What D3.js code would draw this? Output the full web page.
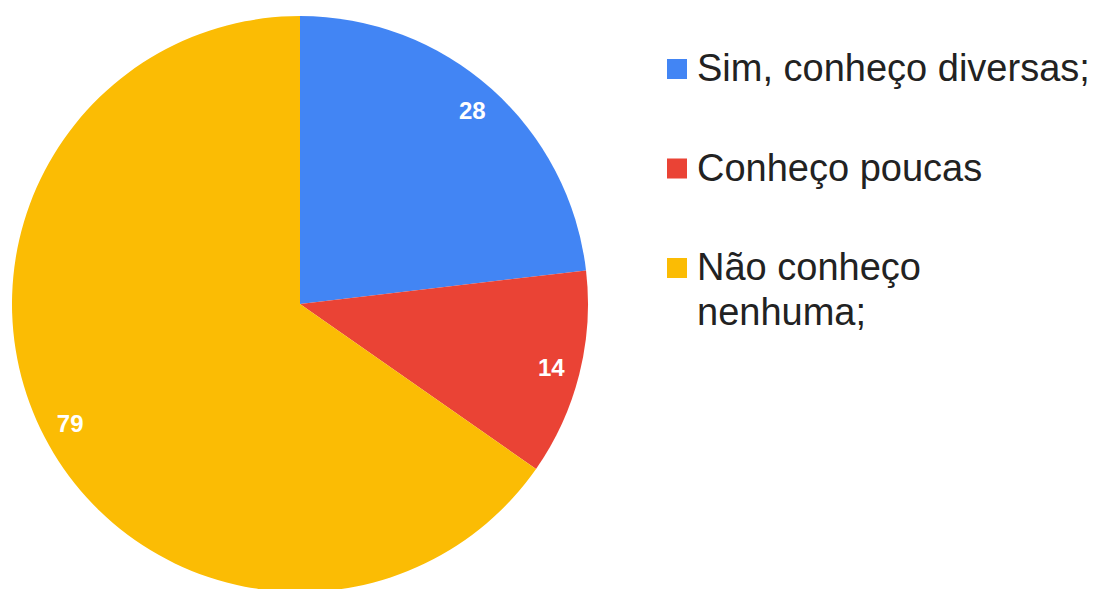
<html>
<head>
<meta charset="utf-8">
<script src="https://d3js.org/d3.v7.min.js"></script>
<style>
  body { margin: 0; background: #fff; }
  text { font-family: "Liberation Sans", Arial, sans-serif; }
</style>
</head>
<body>
<script>
// Categories, values and colours of the pie
var categories = ["Sim, conheço diversas;", "Conheço poucas", "Não conheço nenhuma;"];
var legendLines = [["Sim, conheço diversas;"], ["Conheço poucas"], ["Não conheço", "nenhuma;"]];
var values = [28, 14, 79];
var colors = ["#4285F4", "#EA4335", "#FBBC04"];

var width = 1098, height = 589;
var cx = 300, cy = 304, radius = 288;

var svg = d3.select("body").append("svg")
    .attr("width", width)
    .attr("height", height);

var data = categories.map(function(c, i) { return { name: c, value: values[i], color: colors[i] }; });

var pie = d3.pie()
    .sort(null)
    .value(function(d) { return d.value; });

var arc = d3.arc().innerRadius(0).outerRadius(radius);
// labels sit close to the rim, like in the original
var labelArc = d3.arc().innerRadius(radius * 0.9).outerRadius(radius * 0.9);

var g = svg.append("g").attr("transform", "translate(" + cx + "," + cy + ")");

var slices = g.selectAll(".slice")
    .data(pie(data))
    .enter().append("g")
    .attr("class", "slice");

slices.append("path")
    .attr("d", arc)
    .attr("fill", function(d) { return d.data.color; });

// value labels inside the slices
slices.append("text")
    .attr("transform", function(d) { return "translate(" + labelArc.centroid(d) + ")"; })
    .attr("dy", "0.36em")
    .attr("text-anchor", "middle")
    .attr("font-size", 24)
    .attr("font-weight", "bold")
    .attr("fill", "#fff")
    .text(function(d) { return d.data.value; });

// legend
var legendY = [69, 168.5, 268];
var legend = svg.selectAll(".legend")
    .data(data)
    .enter().append("g")
    .attr("class", "legend")
    .attr("transform", function(d, i) { return "translate(667," + legendY[i] + ")"; });

legend.append("rect")
    .attr("x", 0)
    .attr("y", -10)
    .attr("width", 20)
    .attr("height", 20)
    .attr("fill", function(d) { return d.color; });

legend.append("text")
    .attr("x", 30)
    .attr("y", 12)
    .attr("font-size", 38)
    .attr("fill", "#222")
    .selectAll("tspan")
    .data(function(d, i) { return legendLines[i]; })
    .enter().append("tspan")
    .attr("x", 30)
    .attr("dy", function(d, j) { return j === 0 ? 0 : 45; })
    .text(function(d) { return d; });
</script>
</body>
</html>
